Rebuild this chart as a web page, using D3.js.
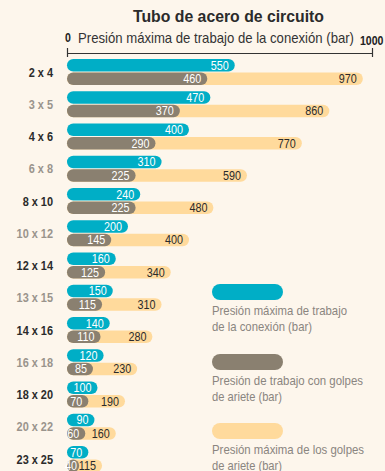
<!DOCTYPE html>
<html>
<head>
<meta charset="utf-8">
<script src="https://cdn.jsdelivr.net/npm/d3@7"></script>
<style>
  html, body { margin: 0; padding: 0; background: #fdf6ec; }
  svg { display: block; font-family: "Liberation Sans", "Arial", sans-serif; }
</style>
</head>
<body>
<svg id="chart" width="385" height="471"></svg>
<script>
// Tube sizes (outer x outer) and their pressure ratings in bar
const sizes = ["2 x 4", "3 x 5", "4 x 6", "6 x 8", "8 x 10", "10 x 12", "12 x 14", "13 x 15", "14 x 16", "16 x 18", "18 x 20", "20 x 22", "23 x 25"];
const maxConnection = [550, 470, 400, 310, 240, 200, 160, 150, 140, 120, 100, 90, 70];
const hammerWorking = [460, 370, 290, 225, 225, 145, 125, 115, 110, 85, 70, 60, 40];
const hammerMax = [970, 860, 770, 590, 480, 400, 340, 310, 280, 230, 190, 160, 115];
const axisTicks = [0, 1000];
const legendLabels = [
  ["Presión máxima de trabajo", "de la conexión (bar)"],
  ["Presión de trabajo con golpes", "de ariete (bar)"],
  ["Presión máxima de los golpes", "de ariete (bar)"]
];

const colors = { cyan: "#00aec6", gray: "#8a8070", beige: "#ffda9c" };
const NARROW = 0.83; // horizontal squeeze giving a condensed face

// Squeeze a text horizontally around its anchor
function condense(sel, k = NARROW) {
  sel.each(function () {
    const w = this.getComputedTextLength();
    d3.select(this).attr("textLength", w * k).attr("lengthAdjust", "spacingAndGlyphs");
  });
  return sel;
}

const svg = d3.select("#chart");

const x = d3.scaleLinear().domain([0, 1000]).range([67, 372]);
const y = d3.scaleBand().domain(sizes).range([59, 59 + 32.25 * sizes.length]);
const barH = 12.5;

// Title and axis caption
svg.append("text").attr("x", 133).attr("y", 22)
  .attr("font-size", 17).attr("font-weight", "bold").attr("fill", "#2b2b2b")
  .text("Tubo de acero de circuito")
  .attr("textLength", 191).attr("lengthAdjust", "spacingAndGlyphs");
svg.append("text").attr("x", 78).attr("y", 43)
  .attr("font-size", 15).attr("fill", "#333")
  .text("Presión máxima de trabajo de la conexión (bar)")
  .attr("textLength", 276).attr("lengthAdjust", "spacingAndGlyphs");

// Top scale line with end ticks
const axis = d3.axisTop(x).tickValues(axisTicks).tickSize(5).tickSizeOuter(0).tickFormat("");
const axG = svg.append("g").attr("transform", "translate(0,53)").call(axis);
axG.select(".domain").attr("stroke", "#333").attr("stroke-width", 1.2);
axG.selectAll(".tick line").attr("stroke", "#333").attr("stroke-width", 1.2).attr("y1", 4).attr("y2", -5);
axG.selectAll(".tick").append("text")
  .attr("fill", "#222").attr("font-weight", "bold").attr("font-size", 12)
  .attr("text-anchor", "start")
  .attr("x", d => d === 0 ? -2.5 : -12.5)
  .attr("y", d => d === 0 ? -11 : -8)
  .text(d => d)
  .call(condense, 0.88);

// Row labels
svg.append("g").selectAll("text").data(sizes).join("text")
  .attr("x", 53).attr("y", d => y(d) + barH + 5)
  .attr("text-anchor", "end").attr("font-size", 13).attr("font-weight", "bold")
  .attr("fill", (d, i) => i % 2 === 0 ? "#2b2b2b" : "#9a948c")
  .text(d => d)
  .call(condense, 0.84);

const rows = sizes.map((s, i) => ({ s, c: maxConnection[i], w: hammerWorking[i], m: hammerMax[i] }));
const g = svg.append("g");

// Max water hammer (beige) under working water hammer (gray)
g.selectAll("rect.m").data(rows).join("rect").attr("class", "m")
  .attr("x", x(0)).attr("y", d => y(d.s) + barH + 1)
  .attr("width", d => x(d.m) - x(0)).attr("height", barH)
  .attr("rx", barH / 2).attr("fill", colors.beige);
g.selectAll("rect.w").data(rows).join("rect").attr("class", "w")
  .attr("x", x(0)).attr("y", d => y(d.s) + barH + 1)
  .attr("width", d => x(d.w) - x(0)).attr("height", barH)
  .attr("rx", barH / 2).attr("fill", colors.gray);
g.selectAll("rect.c").data(rows).join("rect").attr("class", "c")
  .attr("x", x(0)).attr("y", d => y(d.s))
  .attr("width", d => x(d.c) - x(0)).attr("height", barH)
  .attr("rx", barH / 2).attr("fill", colors.cyan);

// Value labels, right-aligned inside each bar end
const labelEnd = {};
function endLabel(key, dy, fill, after) {
  g.selectAll("text." + key).data(rows).join("text").attr("class", key)
    .attr("text-anchor", "end").attr("font-size", 13).attr("fill", fill)
    .attr("y", d => y(d.s) + dy)
    .text(d => d[key])
    .call(condense)
    .attr("x", function (d, i) {
      const w = this.getComputedTextLength() * NARROW;
      let xe = Math.max(x(d[key]) - 6, x(0) + w);
      if (after) xe = Math.max(xe, labelEnd[after][i] + 1.5 + w);
      (labelEnd[key] = labelEnd[key] || [])[i] = xe;
      return xe;
    });
}
endLabel("c", barH - 1.8, "#fff");
endLabel("w", 2 * barH - 0.8, "#fff");
endLabel("m", 2 * barH - 0.8, "#2b2b2b", "w");

// Legend
const legTops = [284, 354, 423];
const legWidths = [[135, 100], [151, 70], [152, 70]];
const leg = svg.append("g").selectAll("g").data(legendLabels).join("g")
  .attr("transform", (d, i) => `translate(212,${legTops[i]})`);
leg.append("rect").attr("width", 71).attr("height", 16).attr("rx", 8)
  .attr("fill", (d, i) => [colors.cyan, colors.gray, colors.beige][i]);
leg.each(function (lines, i) {
  d3.select(this).selectAll("text").data(lines).join("text")
    .attr("x", 0).attr("y", (d, j) => 30.5 + j * 16)
    .attr("font-size", 13).attr("fill", "#8a8580")
    .text(d => d)
    .attr("textLength", (d, j) => legWidths[i][j]).attr("lengthAdjust", "spacingAndGlyphs");
});
</script>
</body>
</html>
